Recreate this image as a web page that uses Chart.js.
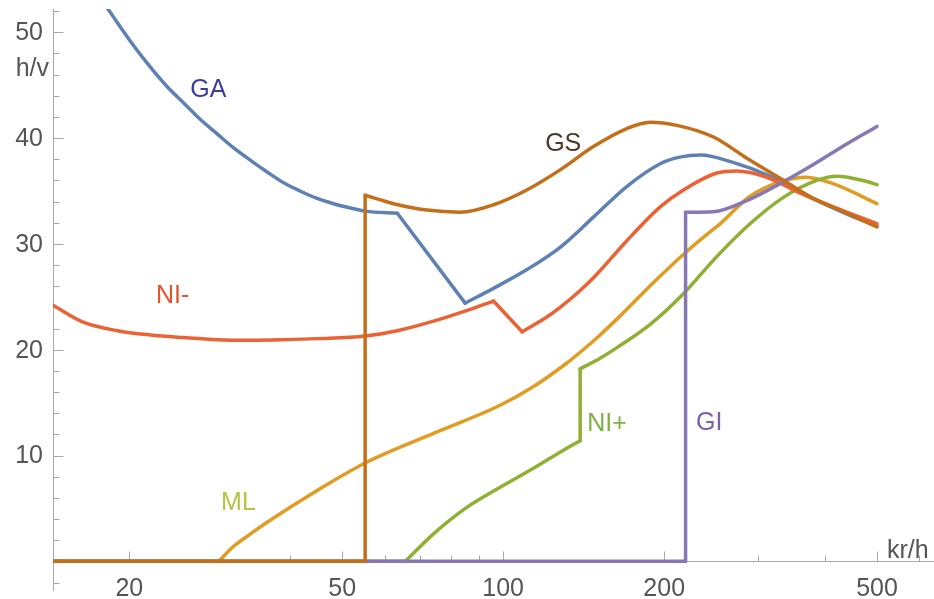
<!DOCTYPE html>
<html>
<head>
<meta charset="utf-8">
<script src="https://cdn.jsdelivr.net/npm/chart.js@4.4.1/dist/chart.umd.min.js"></script>
<style>
  html, body { margin: 0; padding: 0; background: #fff; }
  #wrap { width: 934px; height: 599px; }
</style>
</head>
<body>
<div id="wrap"><canvas id="chart" width="934" height="599"></canvas></div>
<script>
// values (x in kr/h on a log axis, y in h/v)
const gaX = [17.5, 18.3, 19, 20.4, 21.9, 23.5, 25.3, 27.1, 29.2, 31.3, 33.7, 36.2, 38.8, 41.7, 44.9, 48.2, 51.8, 55.2, 63.4, 84.9, 95.9, 111, 128, 148, 170, 197, 214, 234, 269, 312, 344, 386, 445, 500];
const gaY = [53.4, 52.1, 50.9, 48.7, 46.7, 44.9, 43.3, 41.8, 40.4, 39.1, 37.9, 36.8, 35.8, 35.0, 34.3, 33.8, 33.4, 33.1, 32.9, 24.4, 25.8, 27.6, 29.7, 32.6, 35.4, 37.6, 38.2, 38.4, 37.7, 36.5, 35.4, 34.1, 32.7, 31.7];

const gsX = [14.4, 55.2, 55.2, 62.4, 72, 83.1, 95.9, 110.7, 127.8, 147.5, 170.3, 188.3, 211.2, 247.3, 285.5, 329.5, 380.2, 438.9, 500];
const gsY = [0, 0, 34.6, 33.8, 33.2, 33.0, 33.7, 35.1, 37.0, 39.2, 40.9, 41.5, 41.2, 40.1, 38.1, 36.2, 34.3, 32.9, 31.6];

const niMinusX = [14.4, 16.4, 19, 21.9, 25.3, 29.2, 33.7, 38.8, 44.9, 55.2, 63.4, 74.1, 84.3, 95.9, 108.5, 120.7, 127.8, 139.3, 147.5, 170.3, 196.6, 217.3, 250.8, 273.4, 311.1, 359, 414.4, 500];
const niMinusY = [24.2, 22.6, 21.8, 21.4, 21.15, 20.95, 20.9, 20.95, 21.05, 21.3, 21.8, 22.7, 23.6, 24.6, 21.7, 23.1, 24.0, 25.6, 26.8, 30.3, 33.5, 35.1, 36.7, 36.9, 36.3, 34.8, 33.5, 31.9];

const mlX = [14.4, 29.4, 31.3, 33.7, 36.2, 44.9, 55.2, 74.1, 98.7, 113.8, 131.2, 141.1, 151.8, 165.5, 190.6, 217.2, 240.5, 254.4, 289.4, 333.6, 368.2, 413.9, 500];
const mlY = [0, 0, 1.4, 2.6, 3.7, 6.7, 9.3, 12.1, 14.75, 16.5, 18.7, 20.0, 21.4, 23.2, 26.3, 29.0, 30.9, 31.9, 34.5, 35.95, 36.3, 35.7, 33.8];

const niPlusX = [14.4, 65.6, 74.1, 85.5, 98.7, 113.9, 131.5, 139.3, 139.3, 151.8, 163.2, 188.3, 217.3, 250.8, 289.4, 334.2, 385.8, 420.6, 478.5, 500];
const niPlusY = [0, 0, 2.6, 5.1, 7.0, 8.8, 10.7, 11.4, 18.2, 19.2, 20.2, 22.4, 25.3, 28.8, 31.9, 34.4, 36.0, 36.4, 35.9, 35.6];

const giX = [14.4, 219.3, 219.3, 247.3, 285.5, 329.5, 380.2, 438.9, 500];
const giY = [0, 0, 33.0, 33.05, 34.1, 35.7, 37.5, 39.45, 41.1];

// indices where a curve has a sharp corner (the curve is smoothed between them)
const gaCorners = [18, 19];
const gsCorners = [1, 2];
const niMinusCorners = [13, 14];
const mlCorners = [1];
const niPlusCorners = [1, 7, 8];
const giCorners = [1, 2];

// axis ticks
const xMajorTicks = [20, 50, 100, 200, 500];
const xMinorTicks = [30, 40, 60, 70, 80, 90, 300, 400, 600];
const yMajorTicks = [10, 20, 30, 40, 50];
const yMinorTicks = [-2, 2, 4, 6, 8, 12, 14, 16, 18, 22, 24, 26, 28, 32, 34, 36, 38, 42, 44, 46, 48, 52];

// curve labels
const seriesLabels = [
  { text: "GA", x: 28.1, y: 44.5, color: "#3d3d9b" },
  { text: "NI-", x: 24.1, y: 25.1, color: "#e5532b" },
  { text: "GS", x: 129.5, y: 39.4, color: "#4a3b28" },
  { text: "ML", x: 32.0, y: 5.5, color: "#b7c23e" },
  { text: "NI+", x: 156.4, y: 13.0, color: "#7bb13f" },
  { text: "GI", x: 242.7, y: 13.05, color: "#7b5fa9" }
];

const axisColor = "#a8a8a8";
const textColor = "#555555";
const font = "25px 'Liberation Sans', Arial, sans-serif";

const mmaAxes = {
  id: "mmaAxes",
  beforeDatasetsDraw(chart) {
    const { ctx, chartArea: a, scales: { x, y } } = chart;
    const y0 = Math.round(y.getPixelForValue(0)) + 0.5;
    const x0 = Math.round(a.left) + 0.5;
    ctx.save();
    ctx.strokeStyle = axisColor;
    ctx.lineWidth = 1;
    ctx.beginPath();
    ctx.moveTo(a.left, y0);
    ctx.lineTo(a.right, y0);
    ctx.moveTo(x0, a.top);
    ctx.lineTo(x0, a.bottom);
    xMajorTicks.forEach(v => {
      const px = Math.round(x.getPixelForValue(v)) + 0.5;
      ctx.moveTo(px, y0);
      ctx.lineTo(px, y0 - 10);
    });
    xMinorTicks.forEach(v => {
      const px = Math.round(x.getPixelForValue(v)) + 0.5;
      ctx.moveTo(px, y0);
      ctx.lineTo(px, y0 - 6);
    });
    yMajorTicks.forEach(v => {
      const py = Math.round(y.getPixelForValue(v)) + 0.5;
      ctx.moveTo(x0, py);
      ctx.lineTo(x0 + 10, py);
    });
    yMinorTicks.forEach(v => {
      const py = Math.round(y.getPixelForValue(v)) + 0.5;
      ctx.moveTo(x0, py);
      ctx.lineTo(x0 + 6, py);
    });
    ctx.stroke();
    ctx.restore();
  },
  afterDatasetsDraw(chart) {
    const { ctx, chartArea: a, scales: { x, y } } = chart;
    const y0 = y.getPixelForValue(0);
    ctx.save();
    ctx.font = font;
    ctx.fillStyle = textColor;

    ctx.textAlign = "right";
    ctx.textBaseline = "middle";
    yMajorTicks.forEach(v => ctx.fillText(String(v), a.left - 10, y.getPixelForValue(v) + 1));

    ctx.textAlign = "center";
    ctx.textBaseline = "top";
    xMajorTicks.forEach(v => ctx.fillText(String(v), x.getPixelForValue(v), y0 + 15));

    ctx.textBaseline = "alphabetic";
    ctx.textAlign = "right";
    ctx.fillText("h/v", 49, 76);
    ctx.textAlign = "left";
    ctx.fillText("kr/h", 887, y0 - 3);

    ctx.textAlign = "center";
    ctx.textBaseline = "middle";
    seriesLabels.forEach(l => {
      ctx.fillStyle = l.color;
      ctx.fillText(l.text, x.getPixelForValue(l.x), y.getPixelForValue(l.y));
    });
    ctx.restore();
  }
};

// one series -> several datasets split at its corners, smooth in between
function series(label, xs, ys, corners, color, order) {
  const cuts = [0, ...corners, xs.length - 1];
  const sets = [];
  for (let k = 0; k < cuts.length - 1; k++) {
    const data = [];
    for (let i = cuts[k]; i <= cuts[k + 1]; i++) data.push({ x: xs[i], y: ys[i] });
    sets.push({
      label: label,
      data: data,
      borderColor: color,
      borderWidth: 3.5,
      borderCapStyle: "round",
      borderJoinStyle: "round",
      pointRadius: 0,
      cubicInterpolationMode: "monotone",
      fill: false,
      order: order
    });
  }
  return sets;
}

new Chart(document.getElementById("chart"), {
  type: "line",
  data: {
    datasets: [
      ...series("GA", gaX, gaY, gaCorners, "#5e81b5", 5),
      ...series("ML", mlX, mlY, mlCorners, "#e19c24", 4),
      ...series("NI+", niPlusX, niPlusY, niPlusCorners, "#8fb032", 3),
      ...series("NI-", niMinusX, niMinusY, niMinusCorners, "#eb6235", 2),
      ...series("GI", giX, giY, giCorners, "#8778b3", 1),
      ...series("GS", gsX, gsY, gsCorners, "#c56e1a", 0)
    ]
  },
  options: {
    responsive: false,
    animation: false,
    layout: { padding: { left: 53, right: 0, top: 9, bottom: 8 } },
    scales: {
      x: { type: "logarithmic", min: 14.4, max: 639, display: false },
      y: { type: "linear", min: -2.8, max: 52.2, display: false }
    },
    plugins: {
      legend: { display: false },
      tooltip: { enabled: false }
    }
  },
  plugins: [mmaAxes]
});
</script>
</body>
</html>
